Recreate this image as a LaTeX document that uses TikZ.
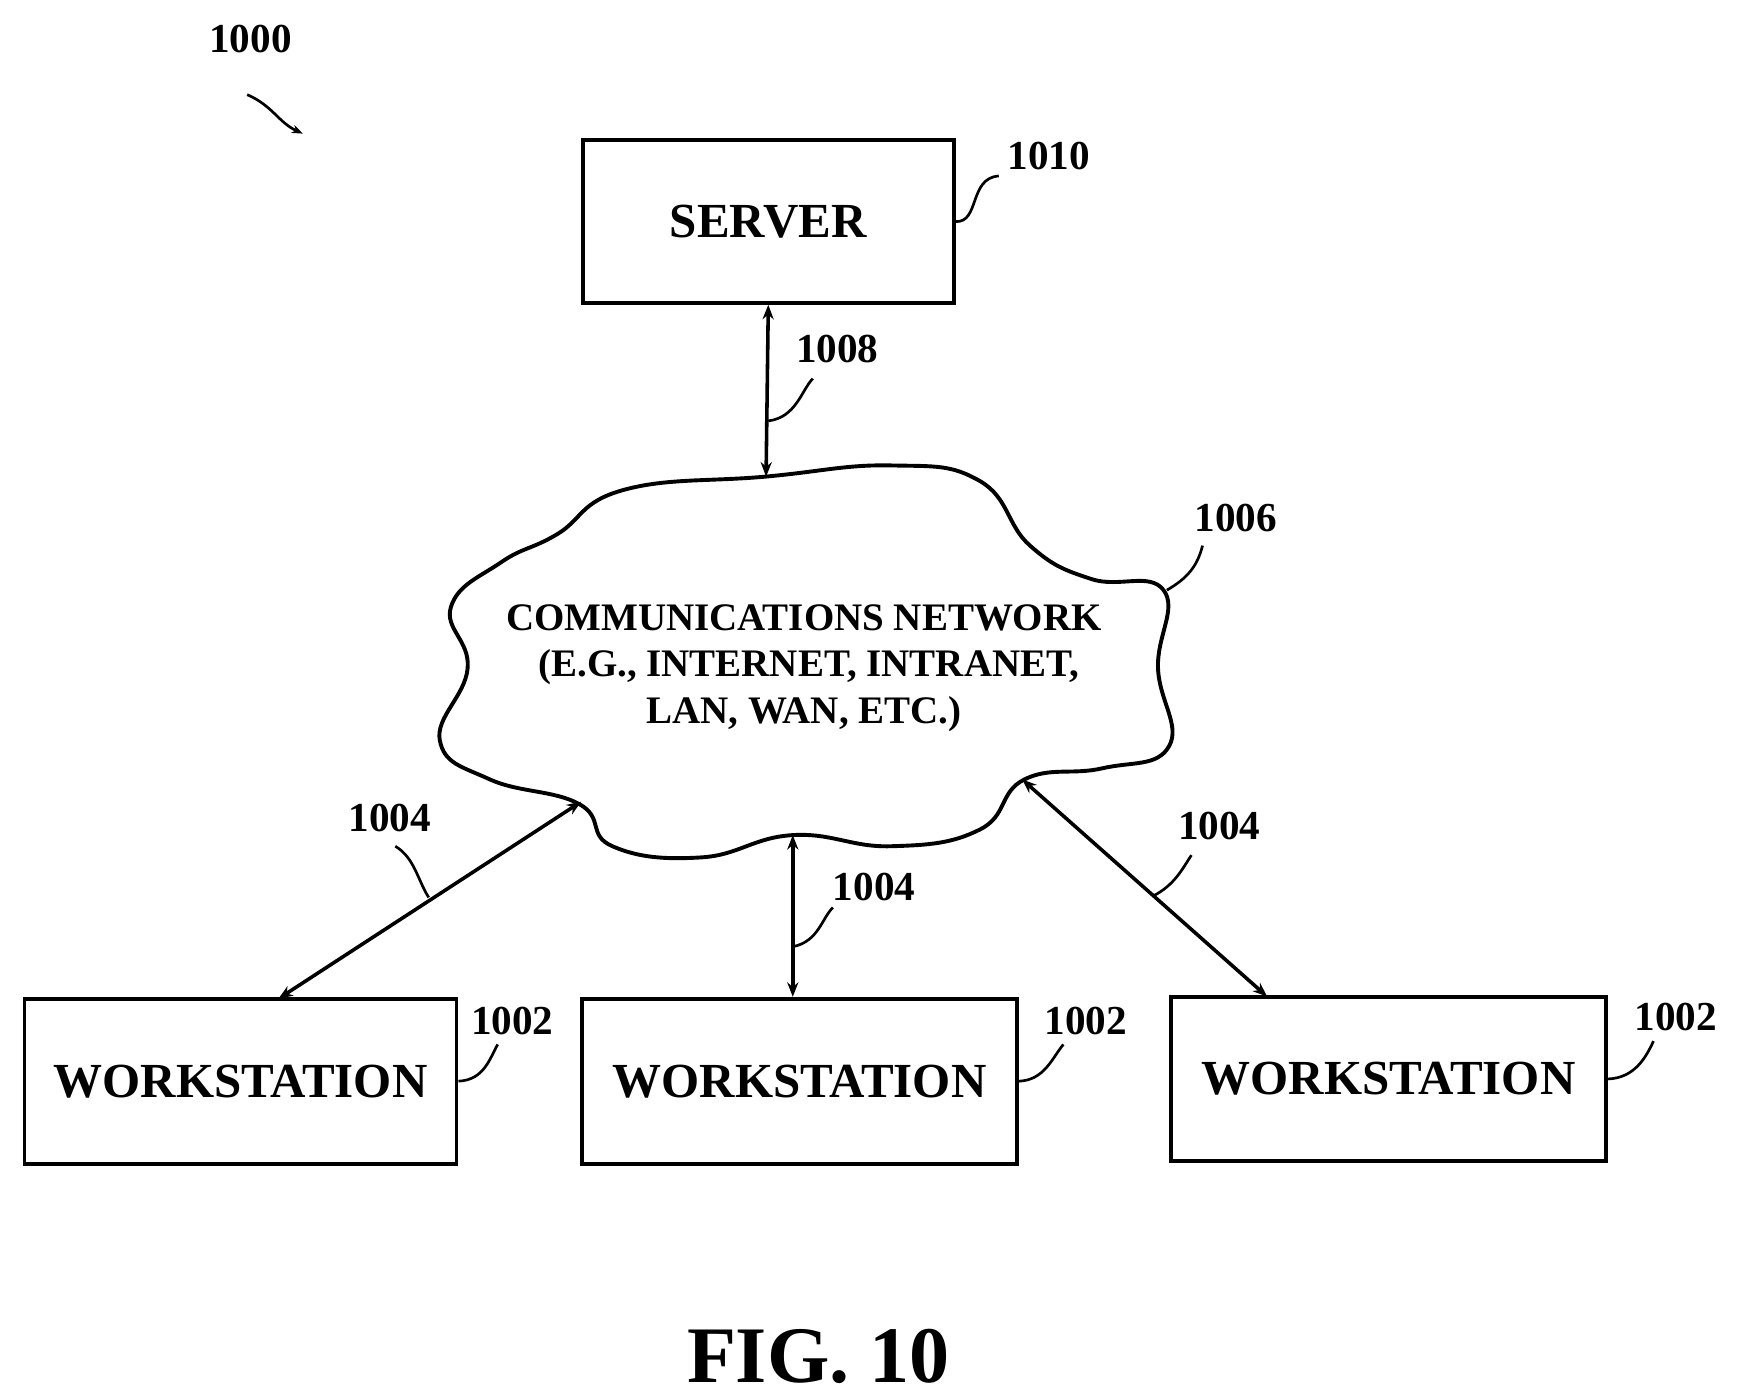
\documentclass[tikz,border=0pt]{standalone}
\usepackage{fontspec}
\setmainfont{Liberation Serif}
\usetikzlibrary{arrows.meta}
\begin{document}
\begin{tikzpicture}[x=1pt,y=-1pt,
  box/.style={draw,line width=3.5pt,inner sep=0pt,font=\fontsize{44}{48}\selectfont\bfseries},
  num/.style={font=\fontsize{37}{40}\selectfont\bfseries},
  lead/.style={line width=2.4pt},
  link/.style={line width=3.2pt,{Stealth[length=13pt,width=10pt]}-{Stealth[length=13pt,width=10pt]}}]
\useasboundingbox (0,0) rectangle (1560,1256);
\node[num] (l1000) at (225,35) {1000};
\draw[lead,-{Stealth[length=10pt]}] (222,85) .. controls (245,95) and (250,110) .. (272,120);
\node[box,minimum width=333pt,minimum height=146pt] (server) at (690,199) {SERVER};
\node[num] (l1010) at (942,140) {1010};
\coordinate (c1010) at (897,158);
\draw[lead] (server.east) .. controls (880,200) and (870,160) .. (c1010);
\node[box,minimum width=388pt,minimum height=148pt] (w1) at (216,971) {WORKSTATION};
\node[box,minimum width=391pt,minimum height=148pt] (w2) at (718,971) {WORKSTATION};
\node[box,minimum width=391pt,minimum height=148pt] (w3) at (1247,969) {WORKSTATION};
\draw[line width=3.5pt] plot[smooth cycle,tension=0.75] coordinates {
(560,440) (688,428) (800,418) (880,432) (925,490) (980,520) (1045,530) (1040,600)
(1050,670) (990,690) (920,700) (880,745) (800,760) (712,750) (630,770) (550,760)
(520,722) (440,700) (395,665) (420,600) (405,545) (450,505) (500,480)};
\coordinate (ctop) at (688,428);
\coordinate (cl) at (522,720);
\coordinate (cm) at (712,750);
\coordinate (cr) at (918,700);
\node[font=\fontsize{35}{42}\selectfont\bfseries,align=center] (net) at (722,600)
 {COMMUNICATIONS NETWORK\\ \ (E.G., INTERNET, INTRANET,\\LAN, WAN, ETC.)};
\node[num] (l1006) at (1110,465) {1006};
\coordinate (c1006) at (1080,490);
\draw[lead] (1048,530) .. controls (1065,520) and (1075,510) .. (c1006);
\draw[link] (server.south) -- (ctop);
\node[num] (l1008) at (752,313) {1008};
\coordinate (c1008) at (730,340);
\draw[lead] (690,378) .. controls (715,375) and (720,350) .. (c1008);
\draw[link] (cl) -- (250,897);
\draw[link] (cm) -- (w2.north -| cm);
\draw[link] (cr) -- (1138,895);
\node[num] (l1004a) at (350,735) {1004};
\draw[lead] (385,806) .. controls (375,790) and (372,770) .. (355,760);
\node[num] (l1004b) at (785,797) {1004};
\draw[lead] (713,850) .. controls (735,845) and (738,825) .. (748,815);
\node[num] (l1004c) at (1095,742) {1004};
\draw[lead] (1035,805) .. controls (1055,795) and (1062,780) .. (1070,768);
\node[num] (l1002a) at (460,917) {1002};
\draw[lead] (w1.east) .. controls (435,970) and (440,950) .. (447,938);
\node[num] (l1002b) at (975,917) {1002};
\draw[lead] (w2.east) .. controls (938,970) and (945,950) .. (955,938);
\node[num] (l1002c) at (1505,913) {1002};
\draw[lead] (w3.east) .. controls (1468,968) and (1478,950) .. (1485,935);
\node[font=\fontsize{72}{80}\selectfont\bfseries] (fig) at (735,1218) {FIG. 10};
\end{tikzpicture}
\end{document}
